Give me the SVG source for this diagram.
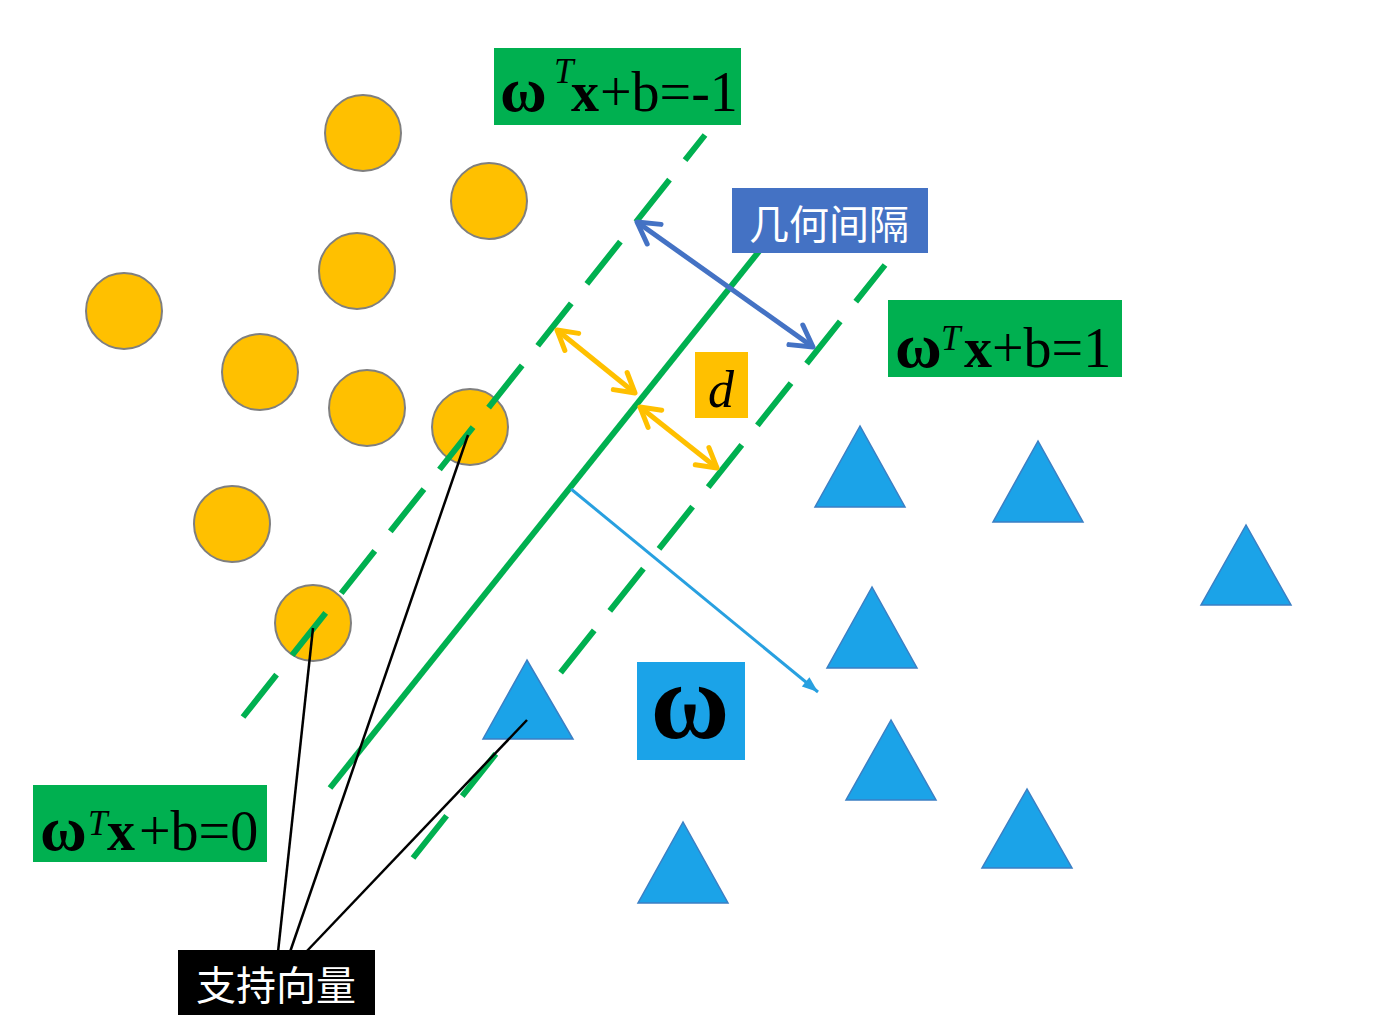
<svg xmlns="http://www.w3.org/2000/svg" width="1398" height="1030" viewBox="0 0 1398 1030">
<defs>
<style>
.circ{fill:#FFC000;stroke:#7F7F7F;stroke-width:2}
.tri{fill:#1BA3E8;stroke:#3B7FC4;stroke-width:1.5;stroke-linejoin:miter}
.gline{stroke:#00B050;stroke-width:6;fill:none}
.dash{stroke-dasharray:54 25}
.blk{stroke:#000;stroke-width:2.5;fill:none}
.f{font-family:'Liberation Serif','DejaVu Serif',serif;fill:#000}
.big{font-size:56px}
.om{font-size:64px;font-weight:bold}
.b{font-weight:bold}
.sup{font-size:35px;font-style:italic}
.cjk{font-family:'Noto Sans CJK SC','Noto Sans',sans-serif;font-size:40px;fill:#fff}
</style>
<marker id="hBlue" markerUnits="userSpaceOnUse" markerWidth="34" markerHeight="34" viewBox="-28 -17 34 34" refX="0" refY="0" orient="auto-start-reverse" overflow="visible">
<path d="M-21,-12 L0,0 L-21,12" fill="none" stroke="#4472C4" stroke-width="5" stroke-linecap="round" stroke-linejoin="round"/>
</marker>
<marker id="hOr" markerUnits="userSpaceOnUse" markerWidth="34" markerHeight="34" viewBox="-28 -17 34 34" refX="0" refY="0" orient="auto-start-reverse" overflow="visible">
<path d="M-19,-11 L0,0 L-19,11" fill="none" stroke="#FFC000" stroke-width="5" stroke-linecap="round" stroke-linejoin="round"/>
</marker>
<marker id="hLb" markerUnits="userSpaceOnUse" markerWidth="24" markerHeight="24" viewBox="-20 -10 24 20" refX="0" refY="0" orient="auto" overflow="visible">
<path d="M-16,-6 L0,0 L-16,6 Z" fill="#28A0E0"/>
</marker>
</defs>
<rect width="1398" height="1030" fill="#fff"/>

<g id="circles">
<circle id="c1" class="circ" cx="363" cy="133" r="38"/>
<circle id="c2" class="circ" cx="489" cy="201" r="38"/>
<circle id="c3" class="circ" cx="357" cy="271" r="38"/>
<circle id="c4" class="circ" cx="124" cy="311" r="38"/>
<circle id="c5" class="circ" cx="260" cy="372" r="38"/>
<circle id="c6" class="circ" cx="367" cy="408" r="38"/>
<circle id="c7" class="circ" cx="470" cy="427" r="38"/>
<circle id="c8" class="circ" cx="232" cy="524" r="38"/>
<circle id="c9" class="circ" cx="313" cy="623" r="38"/>
</g>

<g id="hyperplanes">
<line class="gline dash" x1="243" y1="717" x2="705" y2="135"/>
<line class="gline" x1="330" y1="788" x2="760" y2="250"/>
<line class="gline dash" x1="413" y1="858" x2="885" y2="265"/>
</g>

<g id="triangles">
<polygon id="t1" class="tri" points="860,426 815,507 905,507"/>
<polygon id="t2" class="tri" points="1038,441 993,522 1083,522"/>
<polygon id="t3" class="tri" points="1246,525 1201,605 1291,605"/>
<polygon id="t4" class="tri" points="872,587 827,668 917,668"/>
<polygon id="t5" class="tri" points="527,660 483,739 573,739"/>
<polygon id="t6" class="tri" points="891,720 846,800 936,800"/>
<polygon id="t7" class="tri" points="1027,789 982,868 1072,868"/>
<polygon id="t8" class="tri" points="683,822 638,903 728,903"/>
</g>

<g id="connectors">
<line class="blk" x1="278" y1="952" x2="313" y2="628"/>
<line class="blk" x1="290" y1="952" x2="468" y2="435"/>
<line class="blk" x1="306" y1="952" x2="527" y2="720"/>
<line x1="637" y1="222" x2="813" y2="347" stroke="#4472C4" stroke-width="5" marker-start="url(#hBlue)" marker-end="url(#hBlue)"/>
<line x1="557" y1="330" x2="635" y2="393" stroke="#FFC000" stroke-width="5" marker-start="url(#hOr)" marker-end="url(#hOr)"/>
<line x1="640" y1="407" x2="717" y2="468" stroke="#FFC000" stroke-width="5" marker-start="url(#hOr)" marker-end="url(#hOr)"/>
<line x1="571" y1="489" x2="818" y2="692" stroke="#28A0E0" stroke-width="3" marker-end="url(#hLb)"/>
</g>

<g id="label-minus1">
<rect x="494" y="48" width="247" height="77" fill="#00B050"/>
<text class="f om" x="500" y="111">ω</text>
<text class="f sup" x="554" y="83">T</text>
<text class="f big b" x="571" y="111">x</text>
<text class="f big" x="600" y="111">+b=-1</text>
</g>

<g id="label-plus1">
<rect x="888" y="300" width="234" height="77" fill="#00B050"/>
<text class="f om" x="895" y="367">ω</text>
<text class="f sup" x="941" y="350">T</text>
<text class="f big b" x="964" y="367">x</text>
<text class="f big" x="992" y="367">+b=1</text>
</g>

<g id="label-zero">
<rect x="33" y="785" width="234" height="77" fill="#00B050"/>
<text class="f om" x="40" y="850">ω</text>
<text class="f sup" x="88" y="835">T</text>
<text class="f big b" x="107" y="850">x</text>
<text class="f big" x="139" y="850">+b=0</text>
</g>

<g id="label-margin">
<rect x="732" y="188" width="196" height="65" fill="#4472C4"/>
<text class="cjk" x="829" y="239" text-anchor="middle">几何间隔</text>
</g>

<g id="label-d">
<rect x="695" y="352" width="53" height="66" fill="#FFC000"/>
<text class="f" x="721" y="407" font-size="52" font-style="italic" text-anchor="middle">d</text>
</g>

<g id="label-omega">
<rect x="637" y="662" width="108" height="98" fill="#1BA3E8"/>
<text class="f b" x="690" y="738" font-size="108" text-anchor="middle">ω</text>
</g>

<g id="label-sv">
<rect x="178" y="950" width="197" height="65" fill="#000"/>
<text class="cjk" x="276" y="1000" text-anchor="middle">支持向量</text>
</g>
</svg>
